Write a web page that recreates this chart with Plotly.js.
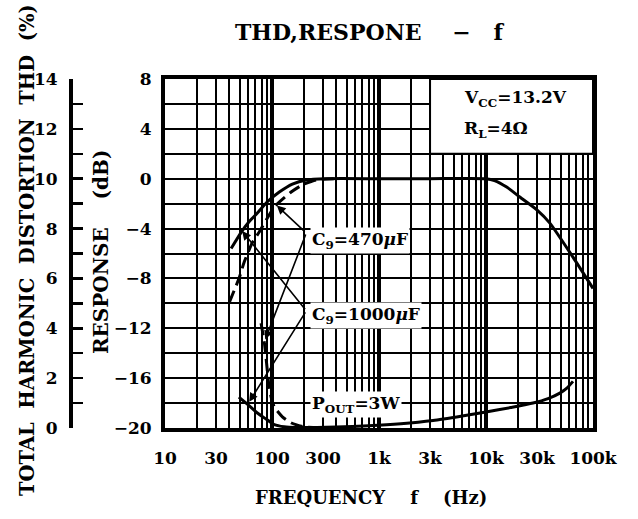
<!DOCTYPE html>
<html>
<head>
<meta charset="utf-8">
<script src="https://cdn.plot.ly/plotly-3.0.1.min.js"></script>
<style>html,body{margin:0;padding:0;background:#fff;}#chart{width:638px;height:519px;}</style>
</head>
<body>
<div id="chart"></div>
<script>
// ---- data ----
const freqResp1000 = [41.5, 51.5, 61, 73, 90, 117, 155, 209, 320, 1000, 3000, 10000, 12000, 15600, 20700, 29900, 39500, 65000, 100000];
const resp1000     = [-5.6, -4.3, -3.45, -2.75, -1.87, -1.07, -0.43, -0.1, 0, 0, 0, 0, -0.15, -0.67, -1.47, -2.5, -3.56, -6.29, -8.8];

const freqResp470 = [40, 49.3, 55, 65.3, 76, 88.3, 105, 151, 192, 259, 400];
const resp470     = [-9.9, -7.97, -6.68, -5.16, -4.28, -3.31, -2.27, -1.07, -0.5, -0.1, 0];

const freqThd1000 = [49, 61, 73, 88, 105, 130, 170, 400, 800, 1600, 3200, 6000, 10000, 17000, 27500, 38000, 49000, 57000, 65000];
const thd1000     = [1.24, 0.9, 0.6, 0.36, 0.14, 0.05, 0.02, 0.04, 0.09, 0.17, 0.3, 0.48, 0.64, 0.82, 1.0, 1.18, 1.4, 1.6, 1.87];

const freqThd470 = [79, 85, 89, 93, 98, 105, 125, 152, 200, 280];
const thd470     = [4.2, 3.4, 2.6, 1.8, 1.25, 0.85, 0.45, 0.2, 0.05, 0.01];

const freqTickVals = [10, 30, 100, 300, 1000, 3000, 10000, 30000, 100000];
const freqTickText = ['10', '30', '100', '300', '1k', '3k', '10k', '30k', '100k'];
const decadeLines  = [100, 1000, 10000];
const respTickVals = [-20, -16, -12, -8, -4, 0, 4, 8];
const thdTickVals  = [0, 2, 4, 6, 8, 10, 12, 14];

// leader-line anchors [Hz, dB]
const label470Corner  = [209, -4.36];
const label1000Corner = [209, -10.6];
const arrow470Resp  = [111, -2.15];
const arrow470Thd   = [86.5, -12.9];
const arrow1000Resp = [52.6, -4.2];
const arrow1000Thd  = [61.2, -17.9];

// minor vertical gridlines: 2..9 per decade except the labelled ones
const minorFreqs = [];
[10, 100, 1000, 10000].forEach(d => {
  for (let k = 2; k <= 9; k++) if (k !== 3) minorFreqs.push(d * k);
});

const FONT = 'DejaVu Serif';
const tickFont = {family: FONT, size: 17, color: '#000', weight: 'bold'};
const lbl = (size) => ({family: FONT, size: size, color: '#000', weight: 'bold'});

const lineStyle = (dash) => ({color: '#000', width: 3, dash: dash, shape: 'spline', smoothing: 0.6});

const traces = [
  {x: freqResp1000, y: resp1000, mode: 'lines', line: lineStyle('solid'), xaxis: 'x', yaxis: 'y', hoverinfo: 'skip'},
  {x: freqResp470, y: resp470, mode: 'lines', line: lineStyle('12px,6px'), xaxis: 'x', yaxis: 'y', hoverinfo: 'skip'},
  {x: freqThd1000, y: thd1000, mode: 'lines', line: lineStyle('solid'), xaxis: 'x', yaxis: 'y2', hoverinfo: 'skip'},
  {x: freqThd470, y: thd470, mode: 'lines', line: lineStyle('12px,6px'), xaxis: 'x', yaxis: 'y2', hoverinfo: 'skip'}
];

const ML = 71, MR = 45, MT = 79, MB = 91;
const W = 638 - ML - MR, H = 519 - MT - MB;
const px = (p) => (p - ML) / W;
const py = (p) => (519 - MB - p) / H;

const shapes = decadeLines.map(f => ({
  type: 'line', xref: 'x', yref: 'y', x0: f, x1: f, y0: -20, y1: 8,
  line: {color: '#000', width: 4}, layer: 'between'
}));
shapes.push({
  type: 'rect', xref: 'x', yref: 'y', x0: 3000, x1: 100000, y0: 2, y1: 8,
  fillcolor: '#fff', line: {color: '#000', width: 2}, layer: 'between'
});

const arrow = (tip, tail) => ({
  xref: 'x', yref: 'y', axref: 'x', ayref: 'y',
  x: Math.log10(tip[0]), y: tip[1], ax: Math.log10(tail[0]), ay: tail[1],
  text: '', showarrow: true, arrowhead: 2, arrowsize: 1.1, arrowwidth: 1.6, arrowcolor: '#000', standoff: 0
});

const annotations = [
  arrow(arrow470Resp, label470Corner),
  arrow(arrow470Thd, label470Corner),
  arrow(arrow1000Resp, label1000Corner),
  arrow(arrow1000Thd, label1000Corner),
  {xref: 'paper', yref: 'paper', x: px(310), y: py(240), xanchor: 'left', yanchor: 'middle', showarrow: false,
   text: 'C<sub>9</sub>=470<i>μ</i>F', font: lbl(17), bgcolor: '#fff', borderpad: 1},
  {xref: 'paper', yref: 'paper', x: px(310), y: py(315), xanchor: 'left', yanchor: 'middle', showarrow: false,
   text: 'C<sub>9</sub>=1000<i>μ</i>F', font: lbl(17), bgcolor: '#fff', borderpad: 1},
  {xref: 'paper', yref: 'paper', x: px(310), y: py(404), xanchor: 'left', yanchor: 'middle', showarrow: false,
   text: 'P<sub>OUT</sub>=3W', font: lbl(17), bgcolor: '#fff', borderpad: 1},
  {xref: 'paper', yref: 'paper', x: px(462), y: py(98), xanchor: 'left', yanchor: 'middle', showarrow: false,
   text: 'V<sub>CC</sub>=13.2V', font: lbl(17)},
  {xref: 'paper', yref: 'paper', x: px(462), y: py(129), xanchor: 'left', yanchor: 'middle', showarrow: false,
   text: 'R<sub>L</sub>=4Ω', font: lbl(17)},
  // axis titles
  {xref: 'paper', yref: 'paper', x: px(27), y: py(250), xanchor: 'center', yanchor: 'middle', showarrow: false, textangle: -90,
   text: 'TOTAL\u00a0\u00a0HARMONIC\u00a0\u00a0DISTORTION\u00a0\u00a0THD\u00a0\u00a0(%)', font: lbl(19.5)},
  {xref: 'paper', yref: 'paper', x: px(101), y: py(252), xanchor: 'center', yanchor: 'middle', showarrow: false, textangle: -90,
   text: 'RESPONSE\u00a0\u00a0\u00a0\u00a0(dB)', font: lbl(20)},
  {xref: 'paper', yref: 'paper', x: px(371), y: py(497), xanchor: 'center', yanchor: 'middle', showarrow: false,
   text: 'FREQUENCY\u00a0\u00a0\u00a0\u00a0f\u00a0\u00a0\u00a0\u00a0(Hz)', font: lbl(18)}
];

const layout = {
  width: 638, height: 519,
  margin: {l: ML, r: MR, t: MT, b: MB, pad: 0},
  paper_bgcolor: '#fff', plot_bgcolor: '#fff',
  showlegend: false,
  title: {text: 'THD,RESPONE\u00a0\u00a0\u00a0\u00a0−\u00a0\u00a0\u00a0f', font: lbl(22),
          xref: 'container', yref: 'container', x: 369 / 638, y: 1 - 32 / 519, xanchor: 'center', yanchor: 'middle'},
  xaxis: {
    type: 'log', range: [1, 5], domain: [(165 - ML) / W, 1],
    tickmode: 'array', tickvals: freqTickVals, ticktext: freqTickText,
    ticks: '', tickfont: tickFont, ticklabelstandoff: 12,
    showgrid: true, gridcolor: '#000', gridwidth: 2,
    minor: {tickmode: 'array', tickvals: minorFreqs, showgrid: true, gridcolor: '#000', gridwidth: 2, ticks: ''},
    showline: true, linecolor: '#000', linewidth: 4, mirror: true,
    zeroline: false, fixedrange: true
  },
  yaxis: {
    range: [-20, 8], anchor: 'x',
    tickmode: 'array', tickvals: respTickVals,
    ticks: '', tickfont: tickFont, ticklabelstandoff: 6,
    showgrid: true, gridcolor: '#000', gridwidth: 2,
    minor: {dtick: 2, tick0: 0, showgrid: true, gridcolor: '#000', gridwidth: 2, ticks: ''},
    showline: true, linecolor: '#000', linewidth: 4, mirror: true,
    zeroline: false, fixedrange: true
  },
  yaxis2: {
    range: [0, 14], overlaying: 'y', anchor: 'free', position: 0, side: 'left',
    tickmode: 'array', tickvals: thdTickVals,
    ticks: 'inside', ticklen: 10, tickwidth: 2.5, tickcolor: '#000',
    minor: {dtick: 1, tick0: 0, ticks: 'inside', ticklen: 10, tickwidth: 2.5, tickcolor: '#000', showgrid: false},
    tickfont: tickFont, ticklabelstandoff: 8,
    showgrid: false, zeroline: false,
    showline: true, linecolor: '#000', linewidth: 4,
    fixedrange: true
  },
  shapes: shapes,
  annotations: annotations
};

Plotly.newPlot('chart', traces, layout, {displayModeBar: false, staticPlot: true});
</script>
</body>
</html>
